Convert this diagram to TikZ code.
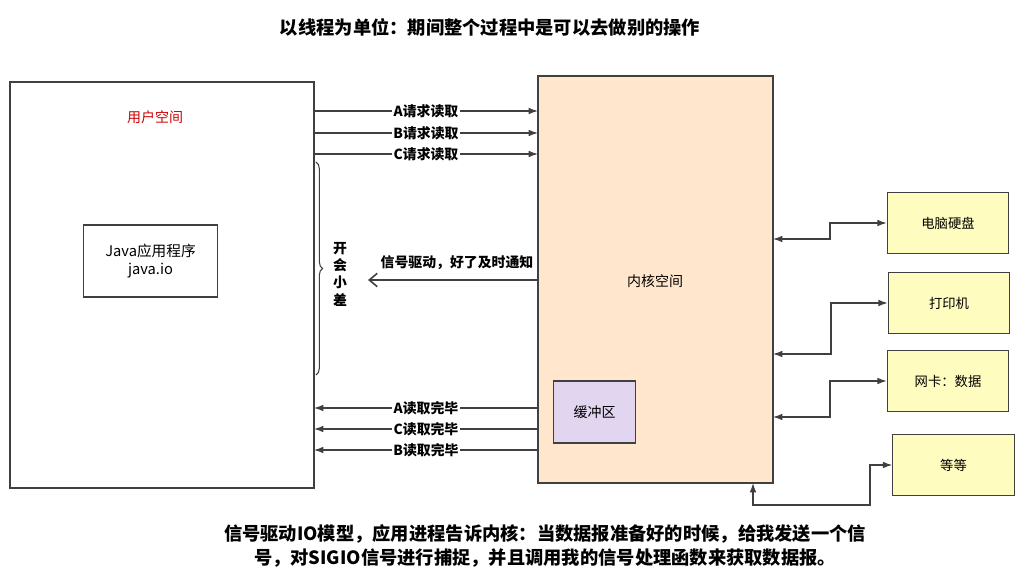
\documentclass[tikz,border=0pt]{standalone}
\usepackage{fontspec}
\setmainfont{Noto Sans CJK SC}
\usetikzlibrary{arrows.meta,decorations.pathreplacing}

\definecolor{lavanda}{RGB}{225,213,240}
\definecolor{durazno}{RGB}{255,230,204}

\tikzset{
  caja/.style={draw=black!75, line width=0.9pt},
  flecha/.style={draw=black!75, line width=0.9pt, -{Latex[length=7pt,width=5pt]}},
  doble/.style={draw=black!75, line width=0.9pt, {Latex[length=7pt,width=5pt]}-{Latex[length=7pt,width=5pt]}},
  etiqueta/.style={fill=white, inner sep=1pt, font=\fontsize{10.4}{12}\selectfont\bfseries},
  dispositivo/.style={caja, fill=yellow!25, minimum width=91pt, minimum height=46pt, font=\fontsize{10}{12}\selectfont}
}

\begin{document}
\begin{tikzpicture}[x=0.75pt,y=-0.75pt]
        % Marco de la figura
        \useasboundingbox (0,0) rectangle (1021,577);

        % Titulo
        \node[font=\fontsize{13.7}{16}\selectfont\bfseries] (titulo) at (490,27) {以线程为单位：期间整个过程中是可以去做别的操作};

        % Espacio de usuario y programa
        \draw[caja] (10,82) rectangle (314,488);
        \coordinate (usrA) at (314,111);
        \coordinate (usrB) at (314,133);
        \coordinate (usrC) at (314,154);
        \coordinate (usrD) at (314,408);
        \coordinate (usrE) at (314,429);
        \coordinate (usrF) at (314,450);
        \node[red!80!black, font=\fontsize{10.5}{12}\selectfont] (usuario) at (155,117) {用户空间};
        \node[caja, minimum width=100pt, minimum height=54pt, align=center, font=\fontsize{11}{14}\selectfont] (java) at (150.5,261) {Java应用程序\\java.io};

        % Espacio del nucleo
        \draw[caja, fill=durazno] (538,76) rectangle (773,483);
        \node[font=\fontsize{10.5}{12}\selectfont] (nucleo) at (655,281) {内核空间};
        \node[caja, fill=lavanda, minimum width=61pt, minimum height=46.5pt, font=\fontsize{10.5}{12}\selectfont] (bufer) at (594.5,412) {缓冲区};
        \coordinate (nucA) at (538,111);
        \coordinate (nucB) at (538,133);
        \coordinate (nucC) at (538,154);
        \coordinate (nucD) at (538,408);
        \coordinate (nucE) at (538,429);
        \coordinate (nucF) at (538,450);
        \coordinate (nucS) at (538,280);
        \coordinate (finS) at (368,280);

        % Peticiones de lectura
        \draw[flecha] (usrA) -- node[etiqueta] {A请求读取} (nucA);
        \draw[flecha] (usrB) -- node[etiqueta] {B请求读取} (nucB);
        \draw[flecha] (usrC) -- node[etiqueta] {C请求读取} (nucC);

        % Lecturas terminadas
        \draw[flecha] (nucD) -- node[etiqueta] {A读取完毕} (usrD);
        \draw[flecha] (nucE) -- node[etiqueta] {C读取完毕} (usrE);
        \draw[flecha] (nucF) -- node[etiqueta] {B读取完毕} (usrF);

        % Aviso por senal
        \draw[draw=black!75, line width=1.2pt, -{Straight Barb[length=6pt,width=10pt]}] (nucS) -- (finS);
        \node[font=\fontsize{10.4}{12}\selectfont\bfseries] (senal) at (457,263) {信号驱动，好了及时通知};

        % Llave con el texto vertical
        \coordinate (llaveA) at (316,162);
        \coordinate (llaveB) at (316,375);
        \draw[draw=black!75, line width=0.8pt, decorate, decoration={brace, amplitude=5pt}] (llaveA) -- (llaveB);
        \node[align=center, font=\fontsize{10.4}{13}\selectfont\bfseries] (despiste) at (340,274) {开\\会\\小\\差};

        % Dispositivos
        \node[dispositivo] (disco) at (948,223) {电脑硬盘};
        \node[dispositivo] (impresora) at (949,303) {打印机};
        \node[dispositivo] (red) at (948,381) {网卡：数据};
        \node[dispositivo] (otros) at (953.5,465) {等等};

        % Conexiones con los dispositivos
        \draw[doble] (773,239) -| (830,223) -- (disco.west);
        \draw[doble] (773,354) -| (831,303) -- (impresora.west);
        \draw[doble] (773,417) -| (830,381) -- (red.west);
        \draw[doble] (753,483) |- (870,505) |- (otros.west);

        % Texto inferior
        \node[align=center, font=\fontsize{13.7}{17.5}\selectfont\bfseries] (nota) at (545,546) {信号驱动IO模型，应用进程告诉内核：当数据报准备好的时候，给我发送一个信\\号，对SIGIO信号进行捕捉，并且调用我的信号处理函数来获取数据报。};
    \end{tikzpicture}
\end{document}
